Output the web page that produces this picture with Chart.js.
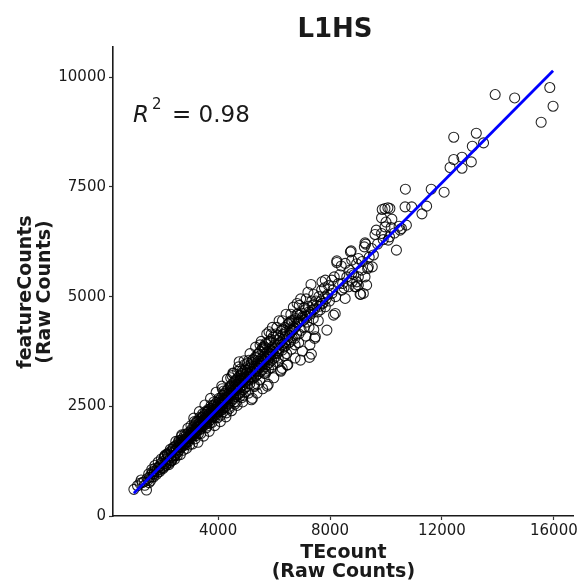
<!DOCTYPE html>
<html>
<head>
<meta charset="utf-8">
<script src="https://cdn.jsdelivr.net/npm/chart.js@4"></script>
<style>
  html, body { margin: 0; padding: 0; background: #ffffff; }
  #wrap { width: 580px; height: 583px; position: relative; }
</style>
</head>
<body>
<div id="wrap"><canvas id="chart" width="580" height="583"></canvas></div>
<script>
// L1HS loci: [TEcount, featureCounts] raw counts, grouped by TEcount range
const lociUnder2000 = [
  [990,608],[1441,592],[1203,745],[1356,781],[1498,820],[1640,895],[1120,690],[1290,760],
  [1380,700],[1550,880],[1600,940],[1700,960],[1720,1020],[1780,1010],[1820,1080],[1850,1000],
  [1880,1120],[1900,1060],[1940,1150],[1960,1200],[1990,1100],[1660,1010],[1460,850],[1530,760],
  [1250,820],[1750,1090],[1520,960],[1580,800],[1630,1060],[1690,890],[1740,1150],[1800,950],
  [1860,1230],[1910,1010],[1970,1300]
];
const loci2000to3000 = [
  [2020,1240],[2045,1110],[2070,1330],[2095,1200],[2115,1390],[2140,1180],[2160,1300],[2185,1420],
  [2205,1250],[2230,1370],[2250,1210],[2275,1460],[2300,1330],[2320,1250],[2345,1480],[2365,1370],
  [2390,1530],[2410,1340],[2435,1470],[2460,1590],[2480,1400],[2505,1540],[2525,1620],[2550,1450],
  [2570,1580],[2590,1690],[2615,1500],[2640,1640],[2660,1560],[2680,1730],[2705,1580],[2725,1700],
  [2750,1610],[2770,1790],[2790,1640],[2815,1760],[2835,1650],[2860,1840],[2880,1700],[2905,1800],
  [2925,1690],[2950,1900],[2970,1760],[2990,1850],[2200,1410],[2450,1380],[2700,1820],[2850,1620],
  [2330,1440],[2620,1660],[2329,1276],
  [2080,1360],[2180,1400],[2290,1520],[2390,1560],[2490,1700],[2600,1720],[2700,1850],[2810,1860],
  [2920,2000],[2030,1080],[2130,1150],[2240,1170],[2340,1260],[2440,1290],[2540,1380],[2650,1400],
  [2760,1500],[2870,1540],[2980,1620],
  [2510,1500],[2560,1560],[2610,1570],[2660,1630],[2710,1640],[2760,1700],[2810,1680],[2860,1760],
  [2910,1760],[2960,1790]
];
const loci3000to4000 = [
  [3010,1880],[3025,1760],[3040,1950],[3060,1820],[3075,1900],[3090,2010],[3110,1830],[3125,1960],
  [3140,1870],[3160,2060],[3175,1900],[3190,1990],[3210,2120],[3225,1930],[3240,2040],[3260,1950],
  [3275,2150],[3290,2030],[3310,2100],[3325,1960],[3340,2190],[3360,2060],[3375,2140],[3390,2000],
  [3410,2230],[3425,2110],[3440,2180],[3460,2050],[3475,2280],[3490,2150],[3510,2220],[3525,2080],
  [3540,2320],[3560,2190],[3575,2260],[3590,2110],[3610,2370],[3625,2240],[3640,2300],[3660,2150],
  [3675,2410],[3690,2270],[3710,2350],[3725,2190],[3740,2450],[3760,2320],[3775,2400],[3790,2240],
  [3810,2500],[3825,2370],[3840,2430],[3860,2280],[3875,2540],[3890,2410],[3910,2480],[3925,2320],
  [3940,2590],[3960,2450],[3975,2520],[3990,2370],[3150,2150],[3300,1880],[3450,2330],[3600,2050],
  [3750,2520],[3900,2250],[3200,1830],[3550,2380],[3700,2110],[3850,2600],[3350,2250],[3650,2430],
  [3030,2060],[3130,2230],[3230,2150],[3330,2380],[3430,2250],[3530,2530],[3630,2380],[3730,2680],
  [3830,2520],[3930,2820],[3080,1640],[3180,1760],[3280,1680],[3380,1880],[3480,1820],[3580,2010],
  [3680,1930],[3780,2130],[3880,2060],[3980,2240],
  [3020,1840],[3070,1860],[3120,1920],[3170,1900],[3220,1990],[3270,1970],[3320,2050],[3370,2040],
  [3420,2100],[3470,2090],[3520,2170],[3570,2150],[3620,2240],[3670,2220],[3720,2300],[3770,2280],
  [3820,2370],[3870,2350],[3920,2430],[3970,2400]
];
const loci4000to5000 = [
  [4010,2560],[4025,2380],[4040,2640],[4060,2470],[4075,2580],[4090,2400],[4110,2690],[4125,2520],
  [4140,2610],[4160,2430],[4175,2750],[4190,2580],[4210,2660],[4225,2470],[4240,2800],[4260,2640],
  [4275,2710],[4290,2500],[4310,2860],[4325,2690],[4340,2770],[4360,2550],[4375,2900],[4390,2740],
  [4410,2810],[4425,2590],[4440,2960],[4460,2790],[4475,2870],[4490,2630],[4510,3010],[4525,2830],
  [4540,2920],[4560,2680],[4575,3060],[4590,2880],[4610,2960],[4625,2720],[4640,3110],[4660,2930],
  [4675,3000],[4690,2760],[4710,3150],[4725,2980],[4740,3060],[4760,2790],[4775,3200],[4790,3020],
  [4810,3100],[4825,2840],[4840,3250],[4860,3070],[4875,3150],[4890,2880],[4910,3290],[4925,3110],
  [4940,3190],[4960,2930],[4975,3330],[4990,3150],[4753,3515],[4871,3326],[4812,3098],[4150,2900],
  [4300,2350],[4450,3150],[4600,2550],[4700,3300],[4850,2700],[4950,3450],[4550,3250],[4400,2450],
  [4200,2850],[4650,2600],[4800,3350],[4100,2300],[4500,3200],[4900,2750],
  [4030,2680],[4130,2960],[4230,2780],[4330,3120],[4430,2950],[4530,3260],[4630,3080],[4730,3400],
  [4830,3220],[4930,3540],[4080,2150],[4180,2380],[4280,2260],[4380,2480],[4480,2400],[4580,2600],
  [4680,2520],[4780,2730],[4880,2600],[4980,2830],
  [4020,2500],[4070,2470],[4120,2560],[4170,2540],[4220,2630],[4270,2600],[4320,2700],[4370,2670],
  [4420,2760],[4470,2740],[4520,2830],[4570,2790],[4620,2900],[4670,2860],[4720,2960],[4770,2920],
  [4820,3030],[4870,2990],[4920,3100],[4970,3050]
];
const loci5000to6000 = [
  [5010,3250],[5030,2950],[5050,3330],[5070,3080],[5090,3420],[5110,3180],[5130,3010],[5150,3380],
  [5170,3260],[5190,3500],[5210,3120],[5225,2681],[5250,3560],[5270,3150],[5290,3410],[5310,3310],
  [5330,3620],[5350,3190],[5370,3470],[5390,3360],[5410,3680],[5430,3240],[5450,3530],[5470,3420],
  [5490,3740],[5510,3290],[5530,3580],[5550,3470],[5570,3800],[5590,3340],[5610,3640],[5630,3530],
  [5650,3860],[5670,3400],[5690,3690],[5710,3580],[5730,3910],[5750,3450],[5770,3740],[5790,3640],
  [5810,3970],[5830,3500],[5850,3790],[5870,3690],[5890,4020],[5910,3550],[5930,3850],[5950,3740],
  [5970,4080],[5990,3600],[5758,2961],[5819,4198],[5701,3934],[5100,3550],[5300,2980],[5500,3900],
  [5700,3300],[5900,4150],[5400,3000],[5600,3850],[5800,3350],[5200,3450],[5350,3600],[5650,3250],
  [5950,3450],
  [5020,3170],[5070,3110],[5120,3240],[5170,3170],[5220,3300],[5270,3240],[5320,3360],[5370,3300],
  [5420,3440],[5470,3370],[5520,3500],[5570,3430],[5620,3570],[5670,3500],[5720,3630],[5770,3560],
  [5820,3700],[5870,3620],[5920,3770],[5970,3690],
  [5040,3480],[5140,3700],[5240,3560],[5340,3850],[5440,3700],[5540,3980],[5640,3820],[5740,4150],
  [5840,3980],[5940,4300],[5090,2800],[5190,2650],[5290,2950],[5390,2800],[5490,3100],[5590,2900],
  [5690,3250],[5790,3000],[5890,3380],[5990,3150]
];
const loci6000to8000 = [
  [6020,3900],[6050,3620],[6080,4010],[6110,3700],[6140,4120],[6170,3760],[6200,4050],[6234,3326],
  [6260,4210],[6290,3780],[6291,3364],[6320,4130],[6350,3850],[6380,4300],[6410,3880],[6440,4200],
  [6468,3440],[6500,4380],[6530,3950],[6560,4250],[6590,3980],[6620,4450],[6650,4060],[6680,4320],
  [6706,4465],[6740,4050],[6770,4500],[6800,4140],[6823,4845],[6860,4400],[6890,4150],[6920,4580],
  [6944,3554],[6970,4230],[6990,4620],[6100,4300],[6300,4450],[6450,3700],[6600,4600],[6750,3900],
  [6900,4800],[6150,3600],[6550,4400],[6850,4600],[6400,4150],
  [6030,3830],[6080,3760],[6130,3900],[6180,3820],[6230,3960],[6280,3900],[6330,4030],[6380,3950],
  [6430,4100],[6480,4020],[6530,4120],[6580,4180],[6630,4230],[6680,4240],[6730,4290],[6780,4330],
  [6830,4400],[6880,4420],[6930,4450],[6980,4500],
  [6060,4150],[6180,4450],[6310,4250],[6430,4600],[6560,4420],[6690,4760],[6820,4600],[6950,4950],
  [6120,3500],[6240,3300],[6370,3650],[6490,3450],[6620,3800],[6750,3600],[6880,3950],
  [7030,4550],[7080,4300],[7120,4700],[7170,4420],[7220,4780],[7263,3615],[7334,3690],[7300,4600],
  [7320,5278],[7360,4800],[7400,4500],[7451,4048],[7476,4085],[7500,4900],[7550,4650],[7600,5000],
  [7650,4700],[7700,5150],[7711,5338],[7750,4850],[7800,5200],[7831,5376],[7831,4769],[7860,4950],
  [7888,4237],[7950,5250],[7980,4900],[7150,4950],[7250,4300],[7420,5050],[7580,4450],[7680,4900],
  [7080,4750],[7210,5100],[7350,4900],[7010,3760],[7140,4100],[7280,3900],[7420,4250],
  [7050,4460],[7110,4560],[7180,4550],[7240,4650],[7310,4640],[7380,4700],[7450,4720],[7520,4800],
  [7620,4780],[7720,4850],[7820,5000],[7920,5050]
];
const loci8000to10500 = [
  [8066,5376],[8066,5073],[8126,4579],[8186,4617],[8243,5816],[8243,5779],[8303,5301],[8421,5148],
  [8541,5757],[8541,4959],[8658,5224],[8729,6021],[8754,6044],[8776,5832],[8776,5529],[8896,5224],
  [8932,5224],[8953,5337],[8100,5150],[8200,5000],[8350,5500],[8450,5300],[8600,5450],[8700,5600],
  [8850,5500],[8400,5700],[8150,5450],[8500,5200],[8800,5350],[8950,5750],
  [9013,5870],[9013,5451],[9013,5262],[9074,5057],[9095,5050],[9131,5604],[9191,5073],[9226,6135],
  [9251,6226],[9251,5451],[9273,6196],[9308,5262],[9344,5642],[9368,5679],[9486,6098],[9510,5679],
  [9607,6417],[9652,6515],[9841,6795],[9841,6440],[9865,6987],[9962,6590],[10068,7025],[10125,6363],
  [10185,6577],[10210,6766],[10373,6059],[10469,6606],[10504,6515],[9150,5800],[9400,5900],[9700,6200],
  [9900,6300],[10000,6700],[10300,6450],[9550,5950],[9962,7009],[10139,7009],[10079,6287]
];
const lociAbove10500 = [
  [10551,6553],[10729,6629],[10682,7046],[10693,7449],[10919,7046],[11285,6887],[11452,7062],[11616,7449],
  [12077,7381],[12290,7943],[12421,8126],[12421,8634],[12716,8178],[12716,7927],[13049,8071],[13085,8428],
  [13227,8725],[13486,8504],[13902,9606],[14598,9529],[15545,8975],[15854,9766],[15971,9340]
];

// Linear fit (lm) of featureCounts on TEcount
const fitSlope = 0.643;
const fitIntercept = -119;
const rSquaredLabel = '0.98';

// Axis settings
const xTickValues = [4000, 8000, 12000, 16000];
const yTickValues = [0, 2500, 5000, 7500, 10000];
const xLimits = [244, 16710];
const yLimits = [0, 10690];

const loci = [].concat(lociUnder2000, loci2000to3000, loci3000to4000, loci4000to5000,
  loci5000to6000, loci6000to8000, loci8000to10500, lociAbove10500);
const points = loci.map(([x, y]) => ({ x, y }));
const xs = loci.map(p => p[0]);
const fitXMin = Math.min(...xs), fitXMax = Math.max(...xs);
const fitLine = [fitXMin, fitXMax].map(x => ({ x, y: fitSlope * x + fitIntercept }));

const FONT = "'DejaVu Sans', sans-serif";
const TEXT = '#1a1a1a';

const annotations = {
  id: 'annotations',
  afterDraw(chart) {
    const ctx = chart.ctx;
    const area = chart.chartArea;
    ctx.save();
    ctx.fillStyle = TEXT;

    // Title
    ctx.font = `bold 26px ${FONT}`;
    ctx.textAlign = 'center';
    ctx.textBaseline = 'alphabetic';
    ctx.fillText('L1HS', 335, 37);

    // x axis title
    ctx.font = `bold 19px ${FONT}`;
    const xc = (area.left + area.right) / 2;
    ctx.fillText('TEcount', xc, 558);
    ctx.fillText('(Raw Counts)', xc, 577);

    // y axis title
    ctx.save();
    ctx.translate(0, 292);
    ctx.rotate(-Math.PI / 2);
    ctx.fillText('featureCounts', 0, 31);
    ctx.fillText('(Raw Counts)', 0, 50);
    ctx.restore();

    // R squared
    ctx.textAlign = 'left';
    let x = 133;
    const base = 122;
    ctx.font = `italic 23px ${FONT}`;
    ctx.fillText('R', x, base);
    x += ctx.measureText('R').width + 3;
    ctx.font = `15px ${FONT}`;
    ctx.fillText('2', x, base - 13);
    ctx.font = `23px ${FONT}`;
    ctx.fillText('= ' + rSquaredLabel, 172, base);
    ctx.restore();
  }
};

new Chart(document.getElementById('chart'), {
  type: 'scatter',
  data: {
    datasets: [
      {
        type: 'line',
        data: fitLine,
        borderColor: '#0000ff',
        borderWidth: 2.8,
        pointRadius: 0,
        fill: false,
        order: 0
      },
      {
        data: points,
        pointStyle: 'circle',
        pointRadius: 5,
        borderWidth: 1.1,
        borderColor: 'rgba(0,0,0,0.85)',
        backgroundColor: 'rgba(0,0,0,0)',
        order: 1
      }
    ]
  },
  plugins: [annotations],
  options: {
    responsive: false,
    animation: false,
    events: [],
    layout: { padding: { top: 47, right: 0, left: 0, bottom: 0 } },
    plugins: { legend: { display: false }, tooltip: { enabled: false }, title: { display: false } },
    scales: {
      x: {
        type: 'linear',
        min: xLimits[0],
        max: xLimits[1],
        afterBuildTicks: s => { s.ticks = xTickValues.map(v => ({ value: v })); },
        afterFit: s => { s.height = 67; },
        ticks: {
          callback: v => String(v),
          font: { family: FONT, size: 15 },
          color: TEXT,
          padding: 2,
          maxRotation: 0,
          autoSkip: false
        },
        grid: { drawOnChartArea: false, drawTicks: true, tickLength: 4, tickColor: '#333', tickWidth: 1.2 },
        border: { display: true, color: '#1a1a1a', width: 1.6 }
      },
      y: {
        type: 'linear',
        min: yLimits[0],
        max: yLimits[1],
        afterBuildTicks: s => { s.ticks = yTickValues.map(v => ({ value: v })); },
        afterFit: s => { s.width = 113; },
        ticks: {
          callback: v => String(v),
          font: { family: FONT, size: 15 },
          color: TEXT,
          padding: 3,
          autoSkip: false
        },
        grid: { drawOnChartArea: false, drawTicks: true, tickLength: 4, tickColor: '#333', tickWidth: 1.2 },
        border: { display: true, color: '#1a1a1a', width: 1.6 }
      }
    }
  }
});
</script>
</body>
</html>
